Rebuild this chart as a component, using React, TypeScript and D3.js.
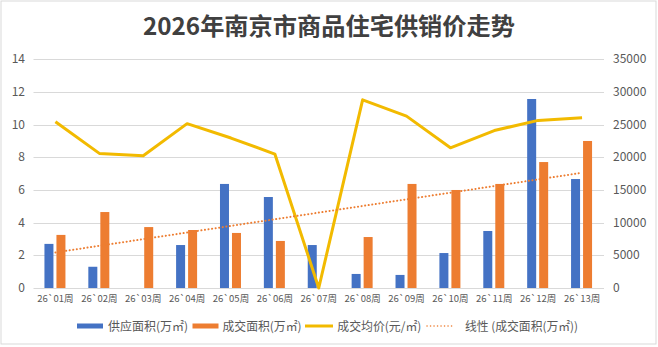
import React from "react";
import * as d3 from "d3";

const categories = ["26`01周", "26`02周", "26`03周", "26`04周", "26`05周", "26`06周", "26`07周", "26`08周", "26`09周", "26`10周", "26`11周", "26`12周", "26`13周"];
const supply = [2.7, 1.3, 0, 2.63, 6.37, 5.57, 2.63, 0.86, 0.8, 2.14, 3.49, 11.57, 6.67];
const deals = [3.25, 4.65, 3.73, 3.55, 3.37, 2.88, 0, 3.12, 6.37, 6.0, 6.37, 7.71, 9.0];
const price = [25450, 20600, 20250, 25150, 22950, 20500, 0, 28800, 26300, 21450, 24100, 25650, 26050];
const leftTicks = [0, 2, 4, 6, 8, 10, 12, 14];
const rightTicks = [0, 5000, 10000, 15000, 20000, 25000, 30000, 35000];
const legendLabels = ["供应面积(万㎡)", "成交面积(万㎡)", "成交均价(元/㎡)", "线性 (成交面积(万㎡))"];
const title = "2026年南京市商品住宅供销价走势";

const W = 658, H = 347;
const FONT = "'Noto Sans CJK SC', 'Noto Sans', sans-serif";
const BLUE = "#4472C4", ORANGE = "#ED7D31", GOLD = "#F2BA00";

export default function App() {
  const x = d3.scaleBand<string>().domain(categories).range([33.5, 604]).padding(0);
  const yL = d3.scaleLinear().domain([0, 14]).range([288, 59.3]);
  const yR = d3.scaleLinear().domain([0, 35000]).range([288, 59.3]);
  const bw = 9;
  const cx = (c: string) => (x(c) as number) + x.bandwidth() / 2;

  // linear trend (least squares) of deals
  const xs = deals.map((_, i) => i + 1);
  const mx = d3.mean(xs) as number, my = d3.mean(deals) as number;
  const slope = d3.sum(xs.map((xi, i) => (xi - mx) * (deals[i] - my))) / d3.sum(xs.map((xi) => (xi - mx) ** 2));
  const inter = my - slope * mx;
  const trendLine = d3.line<number>().x((_, i) => cx(categories[i])).y((v) => yL(v));
  const trendVals = xs.map((xi) => inter + slope * xi);
  const priceLine = d3.line<number>().x((_, i) => cx(categories[i])).y((v) => yR(v));

  const legendY = 326;
  const legendItems = [
    { sx: 77, sw: 26, tx: 108, tw: 80, type: "rect", color: BLUE },
    { sx: 192.5, sw: 26, tx: 222.5, tw: 79, type: "rect", color: ORANGE },
    { sx: 305, sw: 28, tx: 337.3, tw: 84, type: "line", color: GOLD },
    { sx: 426, sw: 27, tx: 465, tw: 113, type: "dot", color: ORANGE },
  ];

  return (
    <div style={{ position: "absolute", left: 0, top: 0 }}>
      <svg width={W} height={H} style={{ display: "block", fontFamily: FONT }}>
        <rect x={0} y={0} width={W} height={H} fill="#fff" />
        <rect x={1} y={1} width={655} height={343} fill="none" stroke="#d9d9d9" strokeWidth={1} />
        <text x={329} y={35} textAnchor="middle" fontSize={23.5} fontWeight="bold" fill="#404040" textLength={372} lengthAdjust="spacingAndGlyphs">{title}</text>
        {leftTicks.map((t) => (
          <g key={"g" + t}>
            {t > 0 && <line x1={33.5} x2={604} y1={Math.round(yL(t)) + 0.5} y2={Math.round(yL(t)) + 0.5} stroke="#d9d9d9" strokeWidth={1} />}
            <text x={25} y={yL(t) + 4} textAnchor="end" fontSize={12} fill="#595959">{t}</text>
          </g>
        ))}
        {rightTicks.map((t) => (
          <text key={"r" + t} x={613} y={yR(t) + 4} textAnchor="start" fontSize={12} fill="#595959">{t}</text>
        ))}
        {categories.map((c, i) => (
          <g key={c}>
            {supply[i] > 0 && <rect x={cx(c) - 11} y={yL(supply[i])} width={bw} height={yL(0) - yL(supply[i])} fill={BLUE} />}
            {deals[i] > 0 && <rect x={cx(c) + 1} y={yL(deals[i])} width={bw} height={yL(0) - yL(deals[i])} fill={ORANGE} />}
            <text x={cx(c)} y={302} textAnchor="middle" fontSize={9.5} fill="#595959">{c}</text>
          </g>
        ))}
        <line x1={33.5} x2={604} y1={288.5} y2={288.5} stroke="#d9d9d9" strokeWidth={1} />
        <path d={priceLine(price) as string} fill="none" stroke={GOLD} strokeWidth={3} strokeLinejoin="round" />
        <path d={trendLine(trendVals) as string} fill="none" stroke={ORANGE} strokeWidth={2} strokeDasharray="0.1 3.5" strokeLinecap="round" />
        {legendItems.map((it, i) => (
          <g key={"l" + i}>
            {it.type === "rect" && <rect x={it.sx} y={legendY - 2.5} width={it.sw} height={5} fill={it.color} />}
            {it.type === "line" && <line x1={it.sx} x2={it.sx + it.sw} y1={legendY} y2={legendY} stroke={it.color} strokeWidth={3} />}
            {it.type === "dot" && <line x1={it.sx + 1} x2={it.sx + it.sw} y1={legendY} y2={legendY} stroke={it.color} strokeWidth={1.5} strokeDasharray="0.1 3.4" strokeLinecap="round" />}
            <text x={it.tx} y={legendY + 4.5} fontSize={12} fill="#595959" textLength={it.tw} lengthAdjust="spacingAndGlyphs">{legendLabels[i]}</text>
          </g>
        ))}
      </svg>
    </div>
  );
}
